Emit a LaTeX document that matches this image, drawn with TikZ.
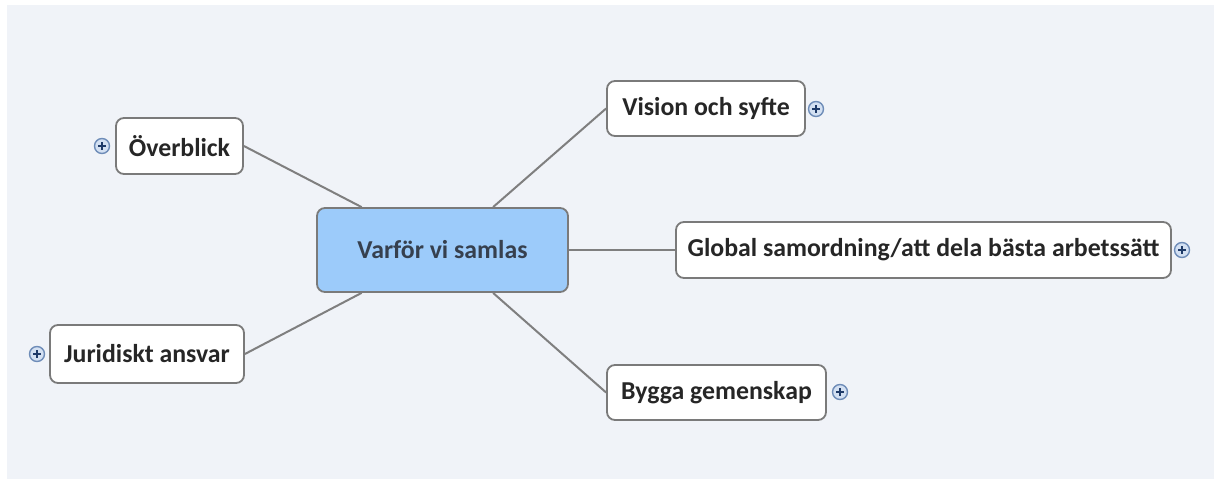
\documentclass[tikz,border=0pt]{standalone}
\usepackage{fontspec}
\setmainfont{Carlito}
\usetikzlibrary{calc}
\definecolor{bgc}{HTML}{F0F3F8}
\definecolor{boxline}{HTML}{7A7A7A}
\definecolor{conn}{HTML}{7F7F7F}
\definecolor{centfill}{HTML}{9CCBFA}
\definecolor{txt}{HTML}{262626}
\definecolor{ctxt}{HTML}{36404E}
\definecolor{plusfill}{HTML}{D3E0F2}
\definecolor{plusline}{HTML}{6E8CB8}
\definecolor{plusmark}{HTML}{1E3A68}
\begin{document}
\begin{tikzpicture}[x=1pt,y=-1pt,
  topicbox/.style={draw=boxline, line width=1.8pt, rounded corners=8pt, fill=white,
    text=txt, font=\bfseries\fontsize{25.8}{30}\selectfont, inner sep=0pt, anchor=center},
  centerbox/.style={topicbox, fill=centfill, text=ctxt},
  connector/.style={draw=conn, line width=2pt},
  plusicon/.style={circle, draw=plusline, fill=plusfill, line width=1.4pt, minimum size=15pt, inner sep=0pt,
    path picture={\draw[plusmark, line width=2pt]
      ($(path picture bounding box.center)+(-4,0)$) -- ($(path picture bounding box.center)+(4,0)$)
      ($(path picture bounding box.center)+(0,-4)$) -- ($(path picture bounding box.center)+(0,4)$);}}
]
\useasboundingbox (0,0) rectangle (1214,479);
\fill[white] (0,0) rectangle (1214,479);
\fill[bgc] (7,5) rectangle (1214,479);

\node[centerbox, minimum width=251pt, minimum height=84pt] (c) at (442.5,250) {Varför vi samlas};
\node[topicbox, minimum width=127pt, minimum height=56pt] (ov) at (179.5,146) {Överblick};
\node[topicbox, minimum width=194pt, minimum height=58pt] (ju) at (147,354) {Juridiskt ansvar};
\node[topicbox, minimum width=198pt, minimum height=55pt] (vi) at (706,108.5) {Vision och syfte};
\node[topicbox, minimum width=495pt, minimum height=56pt] (gl) at (923.5,250) {Global samordning/att dela bästa arbetssätt};
\node[topicbox, minimum width=219pt, minimum height=55pt] (by) at (716.5,392.5) {Bygga gemenskap};

\draw[connector] (ov.east) -- ($(c.north west)!0.18!(c.north east)$);
\draw[connector] (ju.east) -- ($(c.south west)!0.18!(c.south east)$);
\draw[connector] (vi.west) -- ($(c.north west)!0.70!(c.north east)$);
\draw[connector] (by.west) -- ($(c.south west)!0.70!(c.south east)$);
\draw[connector] (gl.west) -- (c.east);

\node[plusicon] (pov) at (102,146) {};
\node[plusicon] (pju) at (37,354) {};
\node[plusicon] (pvi) at (816,109) {};
\node[plusicon] (pgl) at (1182,250) {};
\node[plusicon] (pby) at (840,392) {};
\end{tikzpicture}
\end{document}
